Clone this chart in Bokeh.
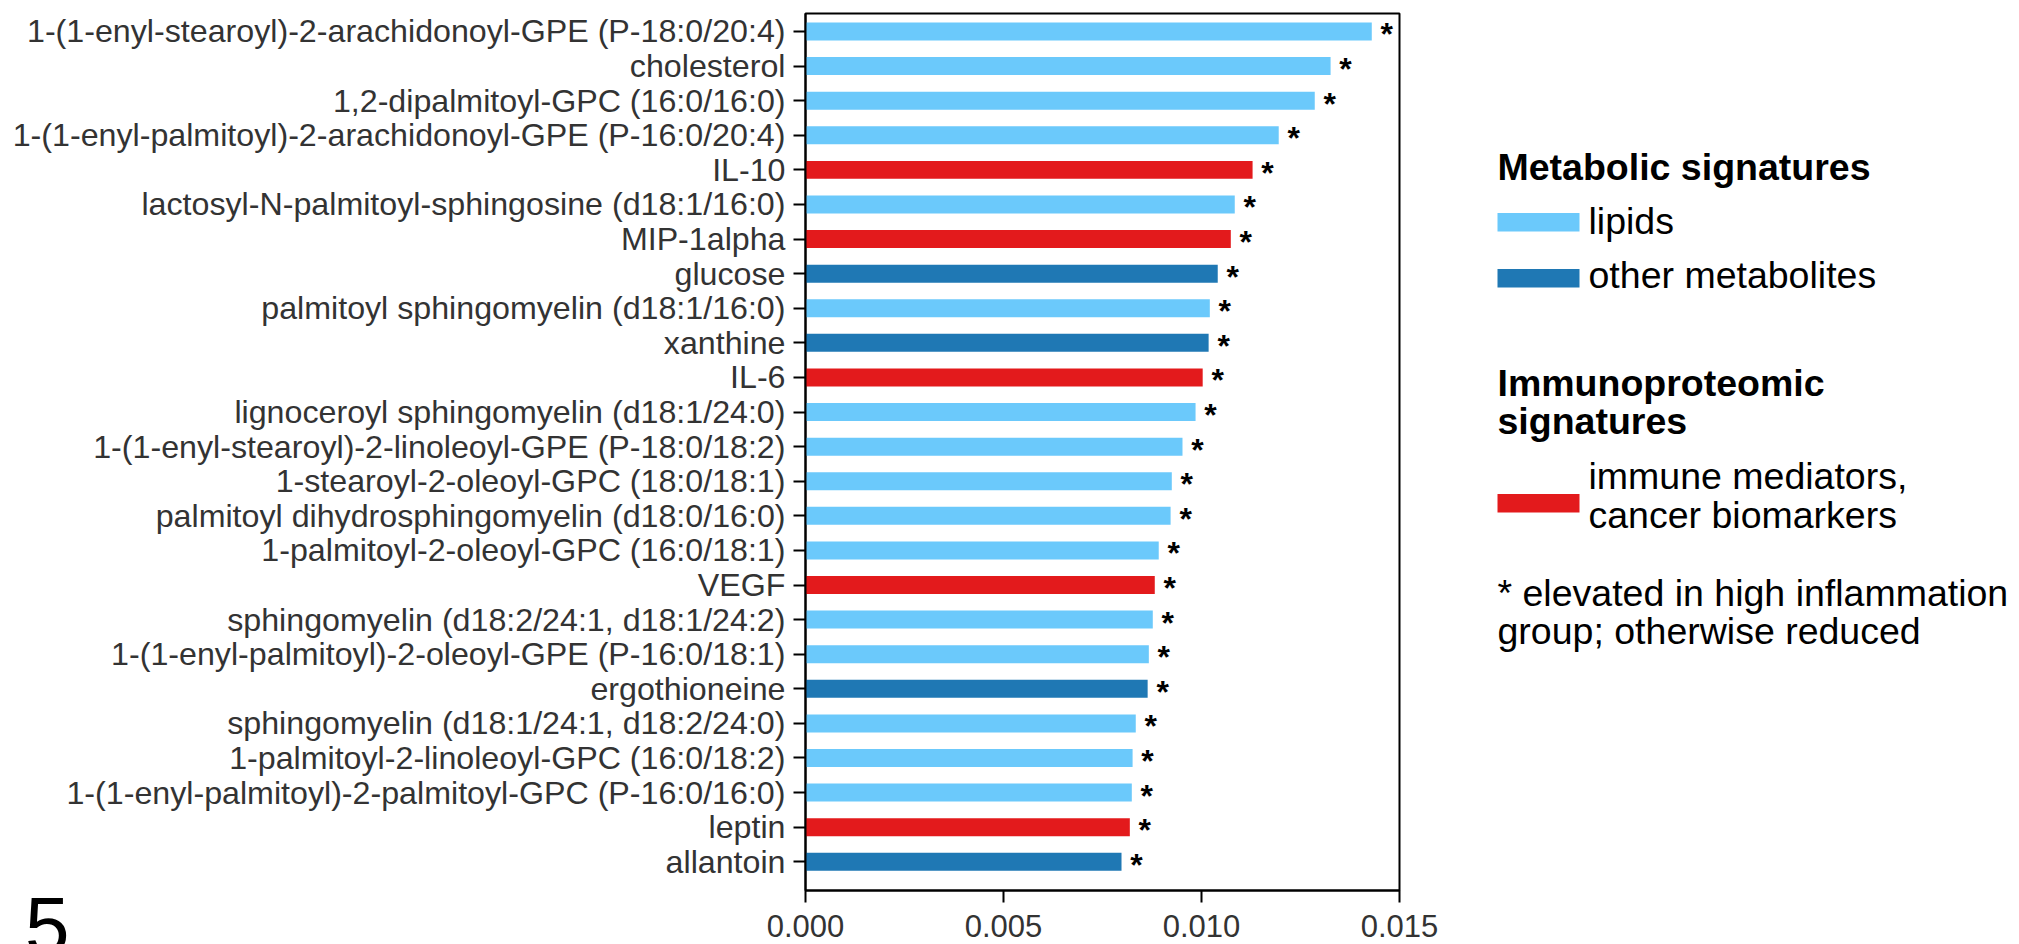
from bokeh.plotting import figure
from bokeh.models import Range1d, FixedTicker, ColumnDataSource
from bokeh.layouts import row, column
from bokeh.embed import file_html
from bokeh.resources import INLINE
from bokeh.core.properties import value

# ---------------- data ----------------
names = [
    "1-(1-enyl-stearoyl)-2-arachidonoyl-GPE (P-18:0/20:4)",
    "cholesterol",
    "1,2-dipalmitoyl-GPC (16:0/16:0)",
    "1-(1-enyl-palmitoyl)-2-arachidonoyl-GPE (P-16:0/20:4)",
    "IL-10",
    "lactosyl-N-palmitoyl-sphingosine (d18:1/16:0)",
    "MIP-1alpha",
    "glucose",
    "palmitoyl sphingomyelin (d18:1/16:0)",
    "xanthine",
    "IL-6",
    "lignoceroyl sphingomyelin (d18:1/24:0)",
    "1-(1-enyl-stearoyl)-2-linoleoyl-GPE (P-18:0/18:2)",
    "1-stearoyl-2-oleoyl-GPC (18:0/18:1)",
    "palmitoyl dihydrosphingomyelin (d18:0/16:0)",
    "1-palmitoyl-2-oleoyl-GPC (16:0/18:1)",
    "VEGF",
    "sphingomyelin (d18:2/24:1, d18:1/24:2)",
    "1-(1-enyl-palmitoyl)-2-oleoyl-GPE (P-16:0/18:1)",
    "ergothioneine",
    "sphingomyelin (d18:1/24:1, d18:2/24:0)",
    "1-palmitoyl-2-linoleoyl-GPC (16:0/18:2)",
    "1-(1-enyl-palmitoyl)-2-palmitoyl-GPC (P-16:0/16:0)",
    "leptin",
    "allantoin",
]
values = [
    0.01430, 0.01326, 0.01286, 0.01195, 0.01129, 0.01084, 0.01074, 0.01041,
    0.01021, 0.01018, 0.01003, 0.00985, 0.00952, 0.00925, 0.00922, 0.00892,
    0.00882, 0.00877, 0.00867, 0.00864, 0.00834, 0.00826, 0.00824, 0.00819,
    0.00798,
]
groups = [
    "lipids", "lipids", "lipids", "lipids", "immune", "lipids", "immune", "other",
    "lipids", "other", "immune", "lipids", "lipids", "lipids", "lipids", "lipids",
    "immune", "lipids", "lipids", "other", "lipids", "lipids", "lipids", "immune",
    "other",
]
markers = ["*"] * len(names)

group_colors = {"lipids": "#6BC9FB", "other": "#1F78B4", "immune": "#E31A1C"}

x_ticks = [0.0, 0.005, 0.010, 0.015]
x_tick_labels = ["0.000", "0.005", "0.010", "0.015"]

legend_heading_1 = "Metabolic signatures"
legend_heading_2 = ["Immunoproteomic", "signatures"]
legend_entries = [
    ("lipids", ["lipids"]),
    ("other", ["other metabolites"]),
    ("immune", ["immune mediators,", "cancer biomarkers"]),
]
legend_note = ["* elevated in high inflammation", "group; otherwise reduced"]
panel_label = "5"

# ---------------- layout geometry (pixels) ----------------
FONT = "Liberation Sans"
H = 944
FRAME_L, FRAME_R, FRAME_T, FRAME_B = 805, 1399, 13, 890
W_MAIN = 1450
W_LEG = 560
X_MIN, X_MAX = 0.0, 0.015
Y_TOP, Y_BOT = -0.52, len(names) - 1 + 0.83

# ---------------- main chart ----------------
src = ColumnDataSource(dict(
    y=list(range(len(names))),
    v=values,
    color=[group_colors[g] for g in groups],
    star=markers,
))

p = figure(
    width=W_MAIN, height=H,
    x_range=Range1d(X_MIN, X_MAX),
    y_range=Range1d(Y_BOT, Y_TOP),
    output_backend="svg", toolbar_location=None,
    min_border_left=FRAME_L, min_border_right=W_MAIN - FRAME_R,
    min_border_top=FRAME_T, min_border_bottom=H - FRAME_B,
)
p.hbar(y="y", left=0, right="v", height=0.52, fill_color="color",
       line_color=None, source=src)
p.text(x="v", y="y", text="star", x_offset=15, y_offset=3,
       text_align="center", text_baseline="alphabetic",
       text_font=value(FONT), text_font_size="32px", text_font_style="bold",
       text_color="black", source=src)

p.xgrid.visible = False
p.ygrid.visible = False
p.outline_line_color = "black"
p.outline_line_width = 2

for ax in (p.xaxis, p.yaxis):
    ax.axis_line_color = "black"
    ax.axis_line_width = 2
    ax.major_tick_line_color = "black"
    ax.major_tick_line_width = 2
    ax.major_tick_in = 0
    ax.major_tick_out = 12
    ax.minor_tick_line_color = None
    ax.major_label_text_font = FONT
    ax.major_label_text_color = "#333333"

p.yaxis.major_label_text_font_size = "32.2px"
p.xaxis.major_label_text_font_size = "31px"

p.yaxis.ticker = FixedTicker(ticks=list(range(len(names))))
p.yaxis.major_label_overrides = {i: n for i, n in enumerate(names)}
p.yaxis.major_label_standoff = 8

p.xaxis.ticker = FixedTicker(ticks=x_ticks)
p.xaxis.major_label_overrides = dict(zip(x_ticks, x_tick_labels))
p.xaxis.major_label_standoff = 12

# ---------------- legend panel (data units == page pixels) ----------------
pl = figure(width=W_LEG, height=H,
            x_range=Range1d(W_MAIN, W_MAIN + W_LEG),
            y_range=Range1d(FRAME_B, FRAME_T),
            output_backend="svg", toolbar_location=None,
            min_border_left=0, min_border_right=0,
            min_border_top=FRAME_T, min_border_bottom=H - FRAME_B,
            x_axis_location=None, y_axis_location=None)
pl.outline_line_color = None
pl.xgrid.visible = False
pl.ygrid.visible = False

X0 = 1497
SW_X0, SW_X1, TXT_X = 1497, 1579, 1588
TXT_SHIFT = -13.5   # text glyph baseline correction

heads_x = [X0, X0, X0]
heads_y = [y + TXT_SHIFT for y in (179.5, 396.0, 434.0)]
heads_t = [legend_heading_1] + legend_heading_2
pl.text(x=heads_x, y=heads_y, text=heads_t, text_font=value(FONT),
        text_font_size="37.5px", text_font_style="bold", text_color="black",
        text_baseline="alphabetic", text_align="left")

sw_top = [212.5, 268.5, 493.5]
sw_h = 18.5
txt_base = [233.5, 287.5, 489.0]
sw_l, sw_r, sw_t, sw_b, sw_c = [], [], [], [], []
tx, ty, tt = [], [], []
for (g, lines), top, base in zip(legend_entries, sw_top, txt_base):
    sw_l.append(SW_X0); sw_r.append(SW_X1); sw_t.append(top); sw_b.append(top + sw_h)
    sw_c.append(group_colors[g])
    for j, line in enumerate(lines):
        tx.append(TXT_X); ty.append(base + 38.5 * j + TXT_SHIFT); tt.append(line)
for j, line in enumerate(legend_note):
    tx.append(X0); ty.append(606.0 + 38.0 * j + TXT_SHIFT); tt.append(line)

pl.quad(left=sw_l, right=sw_r, top=sw_t, bottom=sw_b, fill_color=sw_c, line_color=None)
pl.text(x=tx, y=ty, text=tt, text_font=value(FONT), text_font_size="37.5px",
        text_color="black", text_baseline="alphabetic", text_align="left")

# ---------------- panel label "5" (small transparent figure overlapping bottom-left) ----------------
P5_W, P5_H = 90, H - FRAME_B
p5 = figure(width=P5_W, height=P5_H, x_range=Range1d(0, P5_W), y_range=Range1d(P5_H, 0),
            output_backend="svg", toolbar_location=None, min_border=0,
            x_axis_location=None, y_axis_location=None,
            margin=(-P5_H, 0, 0, 0))
p5.outline_line_color = None
p5.xgrid.visible = False
p5.ygrid.visible = False
p5.background_fill_alpha = 0
p5.border_fill_alpha = 0
p5.text(x=[24.5], y=[35], text=[panel_label], text_font=value(FONT),
        text_font_size="80px", text_color="black",
        text_baseline="alphabetic", text_align="left")

layout = column(row(p, pl), p5)
open("out.html", "w").write(file_html(layout, INLINE))
